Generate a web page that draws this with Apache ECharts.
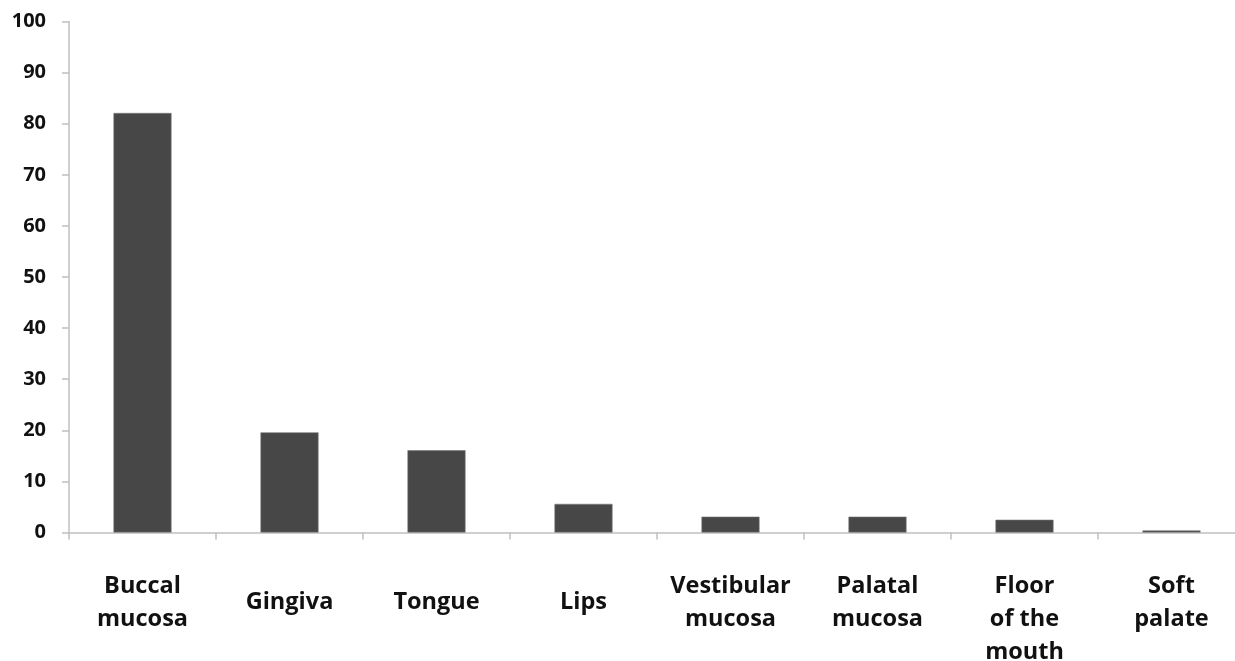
<!DOCTYPE html>
<html>
<head>
<meta charset="utf-8">
<script src="https://cdn.jsdelivr.net/npm/echarts@6/dist/echarts.min.js"></script>
<style>
html,body{margin:0;padding:0;background:#fff;}
#chart{width:1235px;height:661px;}
</style>
</head>
<body>
<div id="chart"></div>
<script>
var categories = ['Buccal\nmucosa', 'Gingiva', 'Tongue', 'Lips', 'Vestibular\nmucosa', 'Palatal\nmucosa', 'Floor\nof the\nmouth', 'Soft\npalate'];
var values = [82.1, 19.6, 16.1, 5.6, 3.1, 3.1, 2.5, 0.4];
var yTicks = { min: 0, max: 100, interval: 10 };

var chart = echarts.init(document.getElementById('chart'));
chart.setOption({
  animation: false,
  grid: { left: 69, right: -10, top: 21.5, bottom: 128.5, containLabel: false, outerBoundsMode: 'none' },
  xAxis: {
    type: 'category',
    data: categories,
    axisLine: { show: true, lineStyle: { color: '#c0c0c0', width: 1.5 } },
    axisTick: { show: true, inside: false, length: 7, alignWithLabel: false, lineStyle: { color: '#c0c0c0', width: 1.5 } },
    axisLabel: {
      interval: 0,
      margin: 70,
      verticalAlign: 'middle',
      fontFamily: 'Open Sans',
      fontWeight: 'bold',
      fontSize: 23.5,
      lineHeight: 33,
      color: '#111',
      formatter: function (v) {
        return v.split('\n').length === 3 ? '\n' + v : v;
      }
    }
  },
  yAxis: {
    type: 'value',
    min: yTicks.min,
    max: yTicks.max,
    interval: yTicks.interval,
    splitLine: { show: false },
    axisLine: { show: true, lineStyle: { color: '#c0c0c0', width: 1.5 } },
    axisTick: { show: true, inside: false, length: 7, lineStyle: { color: '#c0c0c0', width: 1.5 } },
    axisLabel: {
      margin: 23,
      fontFamily: 'Open Sans',
      fontWeight: 'bold',
      fontSize: 20,
      color: '#111'
    }
  },
  series: [{
    type: 'bar',
    data: values,
    barWidth: '39.5%',
    itemStyle: { color: '#474747', borderColor: '#7a7a7a', borderWidth: 0.6 }
  }]
});
</script>
</body>
</html>
